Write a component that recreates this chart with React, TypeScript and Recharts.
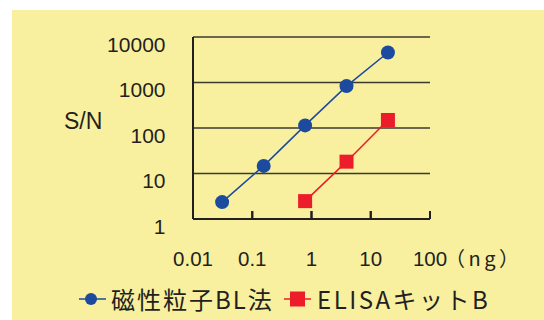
import React from "react";
import { LineChart, Line, XAxis, YAxis, CartesianGrid, Label } from "recharts";

const xTicks = [0.01, 0.1, 1, 10, 100];
const xTickLabels = ["0.01", "0.1", "1", "10", "100"];
const yTicks = [1, 10, 100, 1000, 10000];
const yTickLabels = ["1", "10", "100", "1000", "10000"];
const seriesNames = ["磁性粒子BL法", "ELISAキットB"];
const magneticX = [0.031, 0.156, 0.78, 3.9, 19.5];
const magneticY = [2.35, 14.7, 114, 834, 4570];
const elisaX = [0.78, 3.9, 19.5];
const elisaY = [2.47, 18.2, 150];
const xUnit = "（ng）";
const yTitle = "S/N";

const magneticData = magneticX.map((x, i) => ({ x, y: magneticY[i] }));
const elisaData = elisaX.map((x, i) => ({ x, y: elisaY[i] }));

const BLUE = "#1b4a9e";
const RED = "#ec1c2a";
const INK = "#231f20";
const BG = "#f8f09e";
const NUM_FONT = "'Liberation Sans', Arial, sans-serif";
const CJK_FONT = "'Noto Sans CJK JP', sans-serif";

const XTick = (props: any) => {
  const { x, y, payload } = props;
  const idx = xTicks.indexOf(payload.value);
  // y here is the top of the (upward) tick mark: axis line is at y + 8
  return (
    <g>
      <line x1={x} x2={x} y1={y} y2={y + 8} stroke={INK} strokeWidth={2} />
      <text x={x} y={y + 54.5} textAnchor="middle" fontSize={20.5} fontFamily={NUM_FONT} fill={INK}>
        {idx >= 0 ? xTickLabels[idx] : payload.value}
      </text>
    </g>
  );
};

const YTick = (props: any) => {
  const { x, y, payload } = props;
  const idx = yTicks.indexOf(payload.value);
  return (
    <text x={x - 27.5} y={y + 14.5} textAnchor="end" fontSize={21} fontFamily={NUM_FONT} fill={INK}>
      {idx >= 0 ? yTickLabels[idx] : payload.value}
    </text>
  );
};

const SquareDot = (props: any) => {
  const { cx, cy, index } = props;
  return <rect key={`sq-${index}`} x={cx - 7} y={cy - 7} width={14} height={14} fill={RED} />;
};

export default function App() {
  return (
    <div style={{ position: "absolute", left: 0, top: 0, width: 544, height: 320, background: "#fff", overflow: "hidden" }}>
      <div style={{ position: "absolute", left: 12, top: 10, right: 0, bottom: 0, background: BG }} />
      <div style={{ position: "absolute", left: 0, top: 0 }}>
        <LineChart width={544} height={320} margin={{ top: 37, right: 114, bottom: 71, left: 133 }}>
          <CartesianGrid vertical={false} stroke="#3b3a30" strokeWidth={1.5} />
          <XAxis
            dataKey="x"
            type="number"
            scale="log"
            domain={[0.01, 100]}
            allowDataOverflow
            ticks={xTicks}
            tick={<XTick />}
            tickLine={{ stroke: INK, strokeWidth: 2 }}
            tickSize={-8}
            tickMargin={0}
            height={30}
            axisLine={{ stroke: INK, strokeWidth: 2 }}
            interval={0}
          >
            <Label
              content={(p: any) => {
                const vb = p.viewBox;
                return (
                  <text x={vb.x + vb.width + 15} y={vb.y + 46.5} fontSize={20} letterSpacing={3.5} fontFamily={CJK_FONT} fill={INK}>
                    {xUnit}
                  </text>
                );
              }}
            />
          </XAxis>
          <YAxis
            dataKey="y"
            type="number"
            scale="log"
            domain={[1, 10000]}
            allowDataOverflow
            ticks={yTicks}
            tick={<YTick />}
            tickLine={false}
            tickSize={0}
            tickMargin={0}
            width={60}
            axisLine={{ stroke: INK, strokeWidth: 2 }}
            interval={0}
          >
            <Label
              content={(p: any) => {
                const vb = p.viewBox;
                return (
                  <text x={vb.x + vb.width - 129} y={128.5} fontSize={23} fontFamily={NUM_FONT} fill={INK}>
                    {yTitle}
                  </text>
                );
              }}
            />
          </YAxis>
          <Line
            data={magneticData}
            dataKey="y"
            name={seriesNames[0]}
            stroke={BLUE}
            strokeWidth={1.5}
            dot={{ r: 7, fill: BLUE, stroke: "none" }}
            isAnimationActive={false}
          />
          <Line
            data={elisaData}
            dataKey="y"
            name={seriesNames[1]}
            stroke={RED}
            strokeWidth={1.5}
            dot={<SquareDot />}
            isAnimationActive={false}
          />
        </LineChart>
      </div>
      <div style={{ position: "absolute", left: 79, top: 287, display: "flex", alignItems: "center", fontFamily: CJK_FONT, fontSize: 24, lineHeight: "24px", color: INK }}>
        <svg width={27} height={16} style={{ display: "block" }}>
          <line x1={0} x2={27} y1={8} y2={8} stroke={BLUE} strokeWidth={1.5} />
          <circle cx={12} cy={8} r={6} fill={BLUE} />
        </svg>
        <span style={{ marginLeft: 5, whiteSpace: "nowrap", letterSpacing: 2 }}>{seriesNames[0]}</span>
      </div>
      <div style={{ position: "absolute", left: 284, top: 287, display: "flex", alignItems: "center", fontFamily: CJK_FONT, fontSize: 24, lineHeight: "24px", color: INK }}>
        <svg width={27} height={16} style={{ display: "block" }}>
          <line x1={0} x2={27} y1={8} y2={8} stroke={RED} strokeWidth={1.5} />
          <rect x={6} y={0.5} width={15} height={15} fill={RED} />
        </svg>
        <span style={{ marginLeft: 6, whiteSpace: "nowrap", letterSpacing: 2.5 }}>{seriesNames[1]}</span>
      </div>
    </div>
  );
}
